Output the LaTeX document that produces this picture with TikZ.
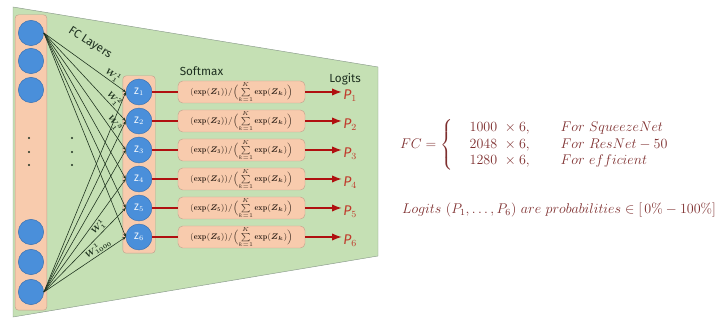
\documentclass[tikz,border=0pt]{standalone}
\usepackage{amsmath, amssymb, bm}
\usepackage{fontspec}
\newfontfamily\labelfont{Fira Sans}
\usepackage{tikz}
\usetikzlibrary{arrows.meta, positioning, fit, backgrounds}
\usepackage{xcolor}
\definecolor{panelgreen}{HTML}{C5E0B4}
\definecolor{paneledge}{HTML}{8C9C8C}
\definecolor{boxorange}{HTML}{F8CBAD}
\definecolor{orangeedge}{HTML}{C4A38E}
\definecolor{zblue}{HTML}{4A8FDA}
\definecolor{zblueedge}{HTML}{3A70B0}
\definecolor{wtline}{HTML}{1E331E}
\definecolor{redline}{HTML}{B01010}
\definecolor{pred}{HTML}{C0392B}
\definecolor{darktext}{HTML}{1E3020}
\definecolor{boxtext}{HTML}{3A2A20}
\definecolor{brownred}{HTML}{7E2F2F}
\newcommand{\bexp}{\mathbf{exp}}

\begin{document}
\begin{tikzpicture}[
  x=0.03cm, y=-0.03cm,
  >=Latex,
  panel/.style={draw=paneledge, fill=panelgreen, thin},
  inp/.style={circle, draw=zblueedge, fill=zblue, minimum size=0.76cm, inner sep=0pt},
  zunit/.style={circle, draw=zblueedge, fill=zblue, minimum size=0.78cm, inner sep=0pt, text=white, font=\labelfont\footnotesize},
  column/.style={draw=orangeedge, fill=boxorange, rounded corners=3pt, thin},
  smbox/.style={rectangle, draw=orangeedge, fill=boxorange, rounded corners=4pt, minimum width=3.81cm, minimum height=0.66cm, inner sep=0pt, font=\scriptsize, text=boxtext},
  wt/.style={-{Stealth[length=3pt, width=2.5pt]}, draw=wtline, line width=0.5pt},
  wlabel/.style={sloped, above, inner sep=1pt, font=\scriptsize, text=wtline},
  zlink/.style={line width=1.6pt, draw=redline},
  plink/.style={->, line width=1.2pt, draw=redline},
  plabel/.style={font=\labelfont\itshape\large, text=pred, inner sep=1pt, anchor=west},
  title/.style={font=\labelfont, text=darktext},
  formula/.style={text=brownred, font=\large}
]
  \useasboundingbox (0,0) rectangle (725,320);

  % couche d'entree
  \foreach \i/\yy in {1/33, 2/61, 3/90, 4/232, 5/262, 6/292}
    \node[inp] (inp\i) at (31,\yy) {};
  \foreach \yy in {138, 152, 165} {
    \fill[darktext] (29,\yy) circle (1pt);
    \fill[darktext] (72,\yy) circle (1pt);
  }

  % neurones Z, softmax et logits
  \foreach \i/\yy in {1/92, 2/121, 3/150, 4/179, 5/208, 6/237} {
    \node[zunit] (z\i) at (139,\yy) {Z$_{\i}$};
    \node[smbox] (sm\i) at (241.5,\yy) {$\mathbf{(}\bexp\mathbf{(}\bm{Z}_{\mathbf{\i}}\mathbf{))/}\Bigl(\sum\limits_{k=1}^{K}\bexp\mathbf{(}\bm{Z}_{\bm{k}}\mathbf{)}\Bigr)$};
  }
  \foreach \i in {1,...,6}
    \node[plabel, right=1.1cm of sm\i, yshift=-0.12cm] (p\i) {P$_{\i}$};
  \foreach \i in {1,...,6} {
    \draw[zlink] (z\i) -- (sm\i);
    \draw[plink] (sm\i.east) -- (sm\i.east -| p\i.west);
  }

  % fonds
  \begin{scope}[on background layer]
    \draw[panel] (13,7) -- (378,67) -- (378,256) -- (13,317) -- cycle;
    \node[column, fit=(inp1) (inp6), inner xsep=0.09cm, inner ysep=0.16cm] (incol) {};
    \node[column, fit=(z1) (z6), inner sep=0.09cm] (zcol) {};
  \end{scope}

  % poids FC
  \foreach \i in {1,...,6} {
    \draw[wt] (inp1.east) -- (z\i.west);
    \draw[wt] (inp6.east) -- (z\i.west);
  }
  \path (inp1.east) -- node[wlabel, pos=0.8] {$\bm{W_1^1}$} (z1.west);
  \path (inp1.east) -- node[wlabel, pos=0.8] {$\bm{W_1^2}$} (z2.west);
  \path (inp1.east) -- node[wlabel, pos=0.8] {$\bm{W_1^3}$} (z3.west);
  \path (inp6.east) -- node[wlabel, pos=0.72] {$\bm{W_1^1}$} (z5.west);
  \path (inp6.east) -- node[wlabel, pos=0.7] {$\bm{W_{1000}^1}$} (z6.west);

  % titres
  \node[title, rotate=-33] (fclab) at (90,43) {FC Layers};
  \node[title, above=1pt of sm1.north, xshift=-1.2cm] (smlab) {Softmax};
  \node[title, above=0pt of p1, xshift=-0.15cm] (lglab) {Logits};

  % texte de droite
  \node[formula, anchor=west] (fc) at (396,145) {$FC = \left\{\begin{array}{@{\hspace{1.2em}}l@{\hspace{2.2em}}l} 1000\ \times 6, & For\ SqueezeNet\\ 2048\ \times 6, & For\ ResNet-50\\ 1280\ \times 6, & For\ efficient\end{array}\right.$};
  \node[formula, anchor=west] (prob) at (398,210) {$Logits\ (P_1, \ldots, P_6)\ are\ probabilities \in [\,0\% - 100\%]$};
\end{tikzpicture}
\end{document}
